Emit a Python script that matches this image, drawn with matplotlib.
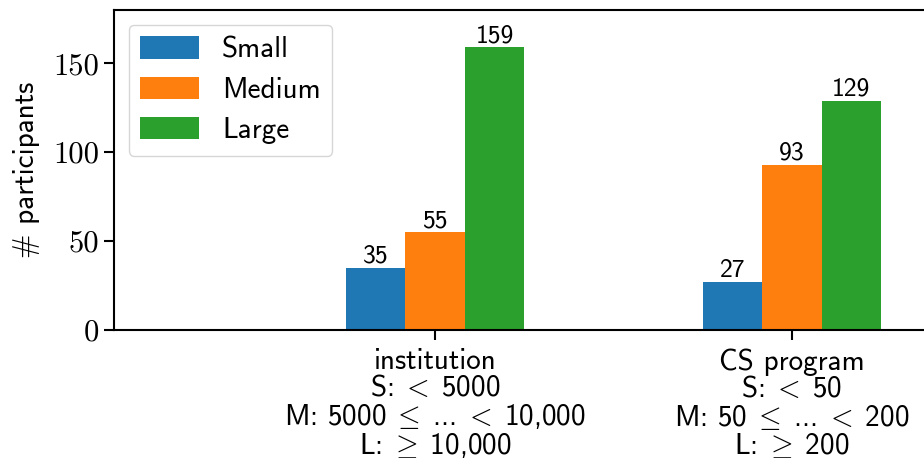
import numpy as np
import matplotlib
matplotlib.use("Agg")
import matplotlib.pyplot as plt

plt.rcParams['mathtext.fontset'] = 'cm'
plt.rcParams['axes.unicode_minus'] = False

# participants per size class
categories = ["institution\nS:$\\;<\\;$5000\nM: 5000$\\;\\leq\\;$...$\\;<\\;$10,000\nL:$\\;\\geq\\;$10,000",
              "CS program\nS:$\\;<\\;$50\nM: 50$\\;\\leq\\;$...$\\;<\\;$200\nL:$\\;\\geq\\;$200"]
small = [35, 27]
medium = [55, 93]
large = [159, 129]
series = ["Small", "Medium", "Large"]
colors = ["#1f77b4", "#ff7f0e", "#2ca02c"]
yticks = [0, 50, 100, 150]

sans = 'cmss10'

fig = plt.figure(figsize=(9.24, 4.68), dpi=100)
ax = fig.add_axes([0.1234, 0.2949, 1.081, 0.6838])

x = np.arange(len(categories))
w = 0.5 / 3
for i, (vals, name, c) in enumerate(zip([small, medium, large], series, colors)):
    bars = ax.bar(x + (i - 1) * w, vals, w, color=c, label=name)
    ax.bar_label(bars, padding=0, fontsize=18.5, fontfamily=sans)

ax.set_xlim(-0.9, 1.9)
ax.set_ylim(0, 180)
ax.set_xticks(x)
ax.set_xticklabels(categories, fontsize=21, fontfamily=sans, linespacing=1.0)
ax.set_yticks(yticks)
ax.set_yticklabels([str(v) for v in yticks], fontsize=22, fontfamily='cmr10')
ax.tick_params(width=1.5, length=7)
ax.tick_params(axis='x', pad=6)
for s in ax.spines.values():
    s.set_linewidth(1.5)
ax.set_ylabel("# participants", fontsize=21, fontfamily=sans, labelpad=10)

leg = ax.legend(loc='upper left', prop={'family': sans, 'size': 21},
                handlelength=2.0, handleheight=0.8, borderpad=0.4,
                labelspacing=0.45, handletextpad=0.8)

fig.savefig("out.png", dpi=100)
